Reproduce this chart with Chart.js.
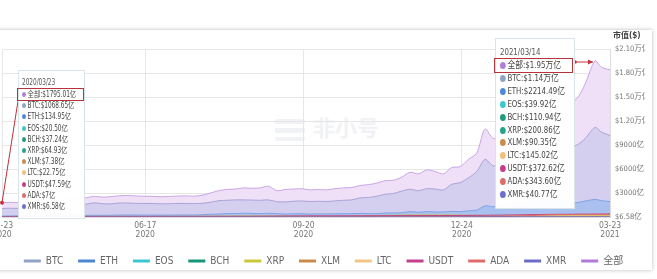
<!DOCTYPE html>
<html>
<head>
<meta charset="utf-8">
<script src="https://cdn.jsdelivr.net/npm/chart.js@4/dist/chart.umd.min.js"></script>
<style>
  body{margin:0;background:#fff;width:657px;height:279px;overflow:hidden;position:relative;
       font-family:"DejaVu Sans Condensed","Noto Sans CJK SC",sans-serif;}
  #card{position:absolute;left:-10px;top:30px;width:662px;height:240px;background:#fff;
        box-shadow:0 0 4px rgba(0,0,0,.28);}
  #chart{position:absolute;left:0;top:0;}
  .wm{position:absolute;left:275px;top:110px;color:#f1f2f5;font:bold 22px "Noto Sans CJK SC",sans-serif;}
  .wm i{display:inline-block;width:30px;height:22px;vertical-align:middle;margin-right:8px;
        background:repeating-linear-gradient(#f1f2f5 0 5px,transparent 5px 9px);border-radius:2px;}
  .unit{position:absolute;left:613px;top:29px;font-size:8px;color:#444;font-weight:bold;}
  .tip{position:absolute;background:rgba(255,255,255,.97);border:1px solid #d8e4e8;color:#444;}
  .tip div{position:absolute;white-space:nowrap;line-height:1;transform-origin:0 50%;}
  .tip span{display:inline-block;border-radius:50%;vertical-align:middle;margin-right:2px;}
  .hl{position:absolute;border:1.5px solid #b8323c;box-sizing:border-box;}
</style>
</head>
<body>
<div id="card"></div>
<div class="wm"><i></i>非小号</div>
<canvas id="chart" width="657" height="279"></canvas>
<div class="unit">市值($)</div>
<div class="tip" id="tip1" style="left:18px;top:70px;width:65px;height:147px"></div>
<div class="hl" style="left:17px;top:88px;width:67px;height:13px"></div>
<div class="tip" id="tip2" style="left:495px;top:38px;width:78px;height:169px"></div>
<div class="hl" style="left:494px;top:58px;width:79px;height:15px"></div>
<script>
const FONT = '"DejaVu Sans Condensed","Noto Sans CJK SC",sans-serif';

// days since 2020-03-23
const DAYS = [0,5,10,15,20,25,30,35,40,45,50,55,60,65,70,75,80,85,90,95,
  100,105,110,115,120,125,130,135,140,145,150,155,160,165,170,175,180,185,190,195,
  200,205,210,215,220,225,230,235,240,245,250,255,260,265,270,275,280,285,290,295,
  300,305,310,315,320,325,330,335,340,345,350,356,360,365];

// market cap, 亿 USD
const TOTAL = [1795,1850,1800,2050,1950,2000,2050,2150,2450,2550,2400,2600,2500,2550,2650,2700,2650,2600,2600,2550,
  2580,2620,2650,2620,2720,3000,3300,3450,3500,3650,3600,3650,3850,3300,3450,3500,3550,3400,3450,3400,
  3550,3650,3700,3950,4050,4250,4550,4600,5000,5600,5400,5900,5700,5400,6200,6300,7200,8000,11000,9800,
  10200,9700,9300,10300,11800,13800,14800,16500,14500,14800,16600,19500,18700,18400];
const BTC = [1068,1110,1090,1250,1180,1300,1320,1400,1600,1720,1600,1780,1680,1650,1750,1760,1720,1700,1700,1660,
  1670,1700,1700,1680,1720,1850,2050,2100,2150,2150,2130,2100,2150,1930,1900,1980,2020,1950,1980,1950,
  2030,2100,2150,2400,2450,2600,2850,2950,3250,3480,3300,3550,3500,3400,4100,4300,4900,5700,7200,6400,
  6800,6000,5700,6300,7200,8500,9000,10500,8800,9000,9800,11200,10600,10200];
const ETH = [135,145,155,190,180,190,200,215,235,230,210,230,225,230,260,270,265,255,255,250,
  255,265,270,265,300,350,380,440,440,480,460,430,480,430,390,410,425,380,405,390,
  410,430,430,465,435,440,510,520,550,690,600,690,640,650,720,680,790,880,1400,1300,
  1400,1400,1500,1550,1950,2000,2070,2250,1670,1800,2000,2214,2050,1940];

// smaller coins, sampled roughly monthly
const SMALL_DAYS = [0,30,60,90,120,150,180,210,240,270,300,330,356,365];
const EOS  = [20.5,27,25,24,26,28,25,24,24,23,27,36,39.92,36];
const BCH  = [37.24,45,45,42,45,55,43,48,52,55,80,95,110.94,100];
const XRP  = [64.93,83,88,80,100,130,110,115,250,260,135,250,200.86,190];
const XLM  = [7.38,9,16,14,20,21,16,17,34,30,60,90,90.35,85];
const LTC  = [22.75,29,29,27,28,39,31,31,50,73,98,135,145.02,125];
const USDT = [47.59,70,90,94,99,110,150,160,185,200,250,340,372.62,390];
const ADA  = [7,12,19,24,37,37,25,30,37,43,80,290,343.6,355];
const XMR  = [6.58,11,11,12,14,18,18,23,23,27,33,40,40.77,36];

const X_TICK_DAYS = [0,86,181,276,365];
const X_TICK_LABELS = [['03-23','2020'],['06-17','2020'],['09-20','2020'],['12-24','2020'],['03-23','2021']];
const Y_TICK_LABELS = ['$6.58亿','$3000亿','$6000亿','$9000亿','$1.20万亿','$1.50万亿','$1.80万亿','$2.10万亿'];

const TIP1_TITLE = '2020/03/23';
const TIP1_ROWS = ['全部:$1795.01亿','BTC:$1068.65亿','ETH:$134.95亿','EOS:$20.50亿','BCH:$37.24亿','XRP:$64.93亿',
  'XLM:$7.38亿','LTC:$22.75亿','USDT:$47.59亿','ADA:$7亿','XMR:$6.58亿'];
const TIP2_TITLE = '2021/03/14';
const TIP2_ROWS = ['全部:$1.95万亿','BTC:$1.14万亿','ETH:$2214.49亿','EOS:$39.92亿','BCH:$110.94亿','XRP:$200.86亿',
  'XLM:$90.35亿','LTC:$145.02亿','USDT:$372.62亿','ADA:$343.60亿','XMR:$40.77亿'];
const TIP_DOTS = ['#b07fd6','#8fa4c4','#4f88d6','#3cc6cf','#1f9b7e','#26a28e','#c98b4e','#f2c079','#c43d8e','#e06b6b','#6b6fc9'];

function pts(xs, ys){ return xs.map((d,i) => ({x:d, y:ys[i]})); }

function fillTip(id, title, rows, o){
  const el = document.getElementById(id);
  const sx = `transform:scaleX(${o.sx})`;
  let html = `<div style="left:${o.pad}px;top:${o.titleTop}px;font-size:${o.fs}px;color:#555;${sx}">${title}</div>`;
  rows.forEach((r,i) => {
    html += `<div style="left:${o.pad}px;top:${o.rowTop + i*o.step}px;font-size:${o.fs}px;${sx}">` +
      `<span style="width:${o.dot}px;height:${o.dot}px;background:${TIP_DOTS[i]}"></span>${r}</div>`;
  });
  el.innerHTML = html;
}
fillTip('tip1', TIP1_TITLE, TIP1_ROWS, {pad:3, titleTop:8, rowTop:20, step:11.2, fs:8, dot:5, sx:0.8});
fillTip('tip2', TIP2_TITLE, TIP2_ROWS, {pad:4, titleTop:8, rowTop:21, step:12.9, fs:9.5, dot:7, sx:0.82});

const series = [
  {label:'BTC', data:pts(DAYS,BTC), borderColor:'#8fa3c4', line:'#a9a3d8', bg:'#d5cfef', order:19, fill:'origin'},
  {label:'ETH', data:pts(DAYS,ETH), borderColor:'#4d86d2', line:'#7fa3e6', bg:'#aac0ef', order:18, fill:'origin'},
  {label:'EOS', data:pts(SMALL_DAYS,EOS), borderColor:'#3cc6d0', order:9},
  {label:'BCH', data:pts(SMALL_DAYS,BCH), borderColor:'#17957a', order:8},
  {label:'XRP', data:pts(SMALL_DAYS,XRP), borderColor:'#c8c83c', order:7},
  {label:'XLM', data:pts(SMALL_DAYS,XLM), borderColor:'#c98a4c', order:6},
  {label:'LTC', data:pts(SMALL_DAYS,LTC), borderColor:'#f3c488', order:5},
  {label:'USDT', data:pts(SMALL_DAYS,USDT), borderColor:'#c2408a', order:4},
  {label:'ADA', data:pts(SMALL_DAYS,ADA), borderColor:'#e06a6a', order:3},
  {label:'XMR', data:pts(SMALL_DAYS,XMR), borderColor:'#6a6cc8', order:2},
  {label:'全部', data:pts(DAYS,TOTAL), borderColor:'#b27ad8', line:'#c9a4e6', bg:'#efe0f7', order:20, fill:'origin'}
];

const datasets = series.map(s => ({
  label: s.label,
  data: s.data,
  legendColor: s.borderColor,
  borderColor: s.line || s.borderColor,
  backgroundColor: s.bg || s.borderColor,
  fill: s.fill || false,
  order: s.order,
  borderWidth: 1,
  pointRadius: 0,
  tension: 0.3
}));

const arrowPlugin = {
  id: 'arrows',
  afterDatasetsDraw(chart){
    const {ctx, scales:{x, y}} = chart;
    ctx.save();
    ctx.strokeStyle = '#c0303a'; ctx.fillStyle = '#c0303a'; ctx.lineWidth = 1;
    const p1 = {x: x.getPixelForValue(DAYS[0]), y: y.getPixelForValue(TOTAL[0])};
    ctx.beginPath(); ctx.moveTo(18, 101); ctx.lineTo(p1.x, p1.y); ctx.stroke();
    ctx.beginPath(); ctx.arc(p1.x, p1.y, 2, 0, Math.PI*2); ctx.fill();
    const k = DAYS.indexOf(356);
    const p2 = {x: x.getPixelForValue(DAYS[k]) - 2, y: y.getPixelForValue(TOTAL[k]) + 1};
    ctx.beginPath(); ctx.moveTo(575, p2.y); ctx.lineTo(p2.x, p2.y); ctx.stroke();
    ctx.beginPath(); ctx.arc(575, p2.y, 1.8, 0, Math.PI*2); ctx.fill();
    ctx.beginPath(); ctx.moveTo(p2.x, p2.y); ctx.lineTo(p2.x - 5, p2.y - 2.5); ctx.lineTo(p2.x - 5, p2.y + 2.5); ctx.closePath(); ctx.fill();
    ctx.restore();
  }
};

new Chart(document.getElementById('chart'), {
  type: 'line',
  data: { datasets },
  options: {
    responsive: false,
    animation: false,
    layout: { padding: { top: 49, left: 2, right: 12, bottom: 3 } },
    plugins: {
      tooltip: { enabled: false },
      legend: {
        position: 'bottom',
        labels: {
          boxWidth: 17, boxHeight: 3, padding: 14.9, color: '#666',
          font: { size: 10, family: FONT },
          generateLabels: chart => chart.data.datasets.map((ds, i) => ({
            text: ds.label, fillStyle: ds.legendColor, strokeStyle: ds.legendColor,
            lineWidth: 0, hidden: false, datasetIndex: i, fontColor: '#666'
          }))
        }
      }
    },
    scales: {
      x: {
        type: 'linear', min: 0, max: 365,
        afterBuildTicks: s => { s.ticks = X_TICK_DAYS.map(v => ({value: v})); },
        afterFit: s => { s.paddingLeft = 0; s.paddingRight = 0; s.height = 24; },
        ticks: {
          autoSkip: false, maxRotation: 0, padding: 4, color: '#777',
          font: { size: 8.5, family: FONT, lineHeight: 1.05 },
          callback: (v, i) => X_TICK_LABELS[i]
        },
        grid: { color: '#e6e6e6', drawTicks: false },
        border: { color: '#ddd' }
      },
      y: {
        position: 'right', min: 0, max: 21000,
        afterFit: s => { s.width = 35; },
        ticks: {
          stepSize: 3000, padding: 5, color: '#777',
          font: { size: 7.5, family: FONT },
          callback: (v, i) => Y_TICK_LABELS[i]
        },
        grid: { color: '#e6e6e6', drawTicks: false },
        border: { color: '#ddd' }
      }
    }
  },
  plugins: [arrowPlugin]
});
</script>
</body>
</html>
